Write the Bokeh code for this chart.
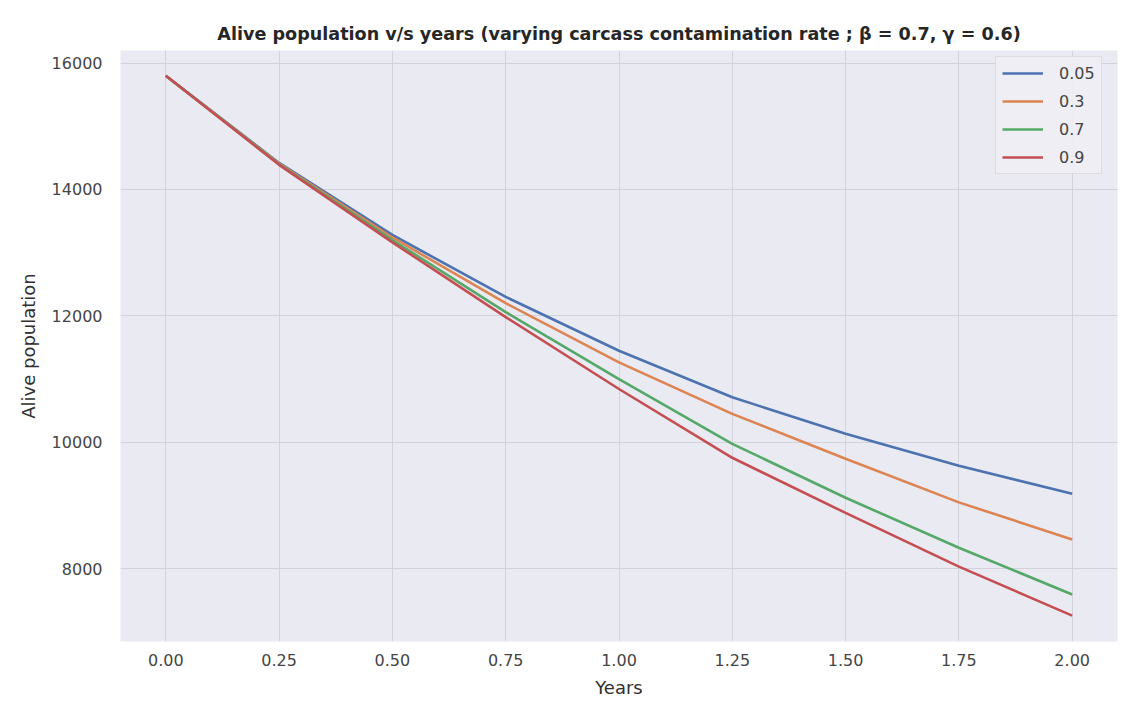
from bokeh.plotting import figure
from bokeh.models import Range1d, FixedTicker, Legend, LegendItem, CustomJSTickFormatter
from bokeh.embed import file_html
from bokeh.resources import INLINE

years = [0.0, 0.25, 0.5, 0.75, 1.0, 1.25, 1.5, 1.75, 2.0]
rates = ["0.05", "0.3", "0.7", "0.9"]
pop_005 = [15800, 14420, 13280, 12300, 11447, 10711, 10132, 9626, 9185]
pop_03 = [15800, 14410, 13240, 12200, 11263, 10448, 9738, 9047, 8460]
pop_07 = [15800, 14400, 13200, 12060, 11000, 9974, 9120, 8330, 7590]
pop_09 = [15800, 14390, 13163, 11980, 10842, 9753, 8880, 8030, 7255]
series = [pop_005, pop_03, pop_07, pop_09]
colors = ["#4C72B0", "#DD8452", "#55A868", "#C44E52"]
x_ticks = [0.0, 0.25, 0.5, 0.75, 1.0, 1.25, 1.5, 1.75, 2.0]
y_ticks = [8000, 10000, 12000, 14000, 16000]

FONT = "DejaVu Sans"

p = figure(
    frame_width=997, frame_height=591,
    min_border_left=120, min_border_right=7, min_border_top=50, min_border_bottom=72,
    x_range=Range1d(-0.1, 2.1), y_range=Range1d(6845, 16200),
    output_backend="svg", toolbar_location=None,
    title="Alive population v/s years (varying carcass contamination rate ; \u03b2 = 0.7, \u03b3 = 0.6)",
)
p.title.align = "center"
p.title.text_font = FONT
p.title.text_font_size = "17.6px"
p.title.text_font_style = "bold"
p.title.text_color = "#262626"
p.title.offset = 0
p.title.standoff = 13

p.background_fill_color = "#EAEAF2"
p.border_fill_color = "white"
p.outline_line_color = None

for ax in (p.xaxis[0], p.yaxis[0]):
    ax.axis_line_color = None
    ax.major_tick_line_color = None
    ax.minor_tick_line_color = None
    ax.major_tick_out = 0
    ax.major_tick_in = 0
    ax.minor_tick_out = 0
    ax.minor_tick_in = 0
    ax.major_label_text_font = FONT
    ax.major_label_text_font_size = "16px"
    ax.major_label_text_color = "#454545"
    ax.axis_label_text_font = FONT
    ax.axis_label_text_font_size = "18px"
    ax.axis_label_text_font_style = "normal"
    ax.axis_label_text_color = "#303030"

p.xaxis.ticker = FixedTicker(ticks=x_ticks)
p.yaxis.ticker = FixedTicker(ticks=y_ticks)
p.xaxis.formatter = CustomJSTickFormatter(code="return tick.toFixed(2);")
p.xaxis.axis_label = "Years"
p.yaxis.axis_label = "Alive population"
p.xaxis.major_label_standoff = 12
p.yaxis.major_label_standoff = 18
p.xaxis.axis_label_standoff = 8
p.yaxis.axis_label_standoff = 10

p.xgrid.grid_line_color = "#D2D2DA"
p.ygrid.grid_line_color = "#D2D2DA"
p.xgrid.grid_line_width = 1
p.ygrid.grid_line_width = 1

items = []
for lab, ys, c in zip(rates, series, colors):
    r = p.line(years, ys, line_color=c, line_width=2.6)
    items.append(LegendItem(label=lab, renderers=[r]))

legend = Legend(items=items, location=(875, 467))
legend.label_text_font = FONT
legend.label_text_font_size = "16px"
legend.label_text_color = "#454545"
legend.background_fill_color = "#EEEEF4"
legend.background_fill_alpha = 0.9
legend.border_line_color = "#CCCCCC"
legend.border_line_width = 1
legend.glyph_width = 41
legend.glyph_height = 20
legend.label_height = 20
legend.spacing = 8
legend.padding = 6
legend.margin = 0
legend.label_standoff = 16
p.add_layout(legend)

open("out.html", "w").write(file_html(p, INLINE))
